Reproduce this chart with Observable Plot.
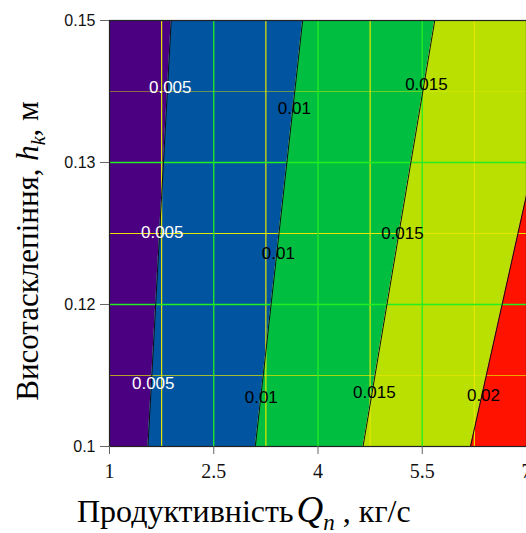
<!DOCTYPE html>
<html><head><meta charset="utf-8">
<script src="https://cdn.jsdelivr.net/npm/d3@7"></script>
<script src="https://cdn.jsdelivr.net/npm/@observablehq/plot@0.6"></script>
<style>body{margin:0;background:#fff;overflow:hidden}</style>
</head><body><div id="chart"></div>
<script>
// Contour levels of the function and where each contour line crosses the bottom (h=0.1) and top (h=0.15) edges
const levels = [0.005, 0.01, 0.015, 0.02];
const hEnds = [0.1, 0.15];
const qAtBottom = [1.553, 3.098, 4.648, 6.194];
const qAtTop = [1.888, 3.779, 5.680, 7.56];
const bandNames = ["<0.005", "0.005–0.01", "0.01–0.015", "0.015–0.02", ">0.02"];
const bandColors = ["#4b0082", "#0054a0", "#00bf40", "#b9e000", "#ff1200"];
const xDomain = [1, 7];
const yDomain = [0.1, 0.15];
const xTicks = [1, 2.5, 4, 5.5, 7];
const xTickLabels = ["1", "2.5", "4", "5.5", "7"];
const yTicks = [0.1, 0.116667, 0.133333, 0.15];
const yTickLabels = ["0.1", "0.12", "0.13", "0.15"];
const xMajorGrid = [2.5, 4, 5.5];
const xMinorGrid = [1.75, 3.25, 4.75, 6.25];
const yMajorGrid = [0.116667, 0.133333];
const yMinorGrid = [0.108333, 0.125, 0.141667];
const yMinorOpacity = [0.7, 1, 0.45];
// contour labels
const labelLevel = [0.005, 0.005, 0.005, 0.01, 0.01, 0.01, 0.015, 0.015, 0.015, 0.02];
const labelText = ["0.005", "0.005", "0.005", "0.01", "0.01", "0.01", "0.015", "0.015", "0.015", "0.02"];
const labelQ = [1.874, 1.759, 1.629, 3.659, 3.429, 3.184, 5.560, 5.215, 4.811, 6.381];
const labelH = [0.1421, 0.1251, 0.1074, 0.1397, 0.1227, 0.1058, 0.1425, 0.1250, 0.1063, 0.1060];

const qAt = (i, k) => (k === 0 ? qAtBottom[i] : qAtTop[i]);
const bandRows = [];
bandNames.forEach((name, b) => {
  hEnds.forEach((h, k) => {
    bandRows.push({
      band: name,
      h,
      x1: b === 0 ? xDomain[0] : qAt(b - 1, k),
      x2: b === bandNames.length - 1 ? xDomain[1] : qAt(b, k)
    });
  });
});
const lineRows = [];
levels.forEach((lv, i) => hEnds.forEach((h, k) => lineRows.push({level: lv, q: qAt(i, k), h})));
const labels = labelText.map((t, i) => ({text: t, level: labelLevel[i], q: labelQ[i], h: labelH[i]}));
const minorY = yMinorGrid.map((y, i) => ({y, o: yMinorOpacity[i]}));

const chart = Plot.plot({
  width: 526,
  height: 533,
  marginLeft: 109,
  marginRight: 0,
  marginTop: 20,
  marginBottom: 87,
  style: {background: "#fff", overflow: "visible"},
  x: {domain: xDomain},
  y: {domain: yDomain},
  color: {domain: bandNames, range: bandColors},
  marks: [
    Plot.areaX(bandRows, {y: "h", x1: "x1", x2: "x2", z: "band", fill: "band", clip: true}),
    Plot.ruleX(xMinorGrid, {stroke: "#e6e600", strokeWidth: 1.2}),
    Plot.ruleY(minorY, {y: "y", stroke: "#e6e600", strokeOpacity: "o", strokeWidth: 1.2}),
    Plot.ruleX(xMajorGrid, {stroke: "#22ee22", strokeWidth: 1.3}),
    Plot.ruleY(yMajorGrid, {stroke: "#22ee22", strokeWidth: 1.3}),
    Plot.line(lineRows, {x: "q", y: "h", z: "level", stroke: "#111", strokeWidth: 1, clip: true}),
    Plot.text(labels, {x: "q", y: "h", text: "text", fill: d => d.level === 0.005 ? "#fff" : "#000",
      fontSize: 17, fontFamily: "Liberation Sans, Arial, sans-serif"}),
    Plot.frame({stroke: "#222", strokeWidth: 1.2}),
    // tick marks only (labels drawn by text marks below)
    Plot.axisX({ticks: xTicks, tickFormat: () => "", tickSize: 8, stroke: "#666", label: null}),
    Plot.axisY({ticks: yTicks, tickFormat: () => "", tickSize: 9, stroke: "#666", label: null}),
    Plot.text(xTicks, {x: d => d, text: (d, i) => xTickLabels[i], frameAnchor: "bottom", dy: 25, lineAnchor: "middle",
      fontSize: 20, fontFamily: "Liberation Serif, serif", fill: "#111"}),
    Plot.text(yTicks, {y: d => d, text: (d, i) => yTickLabels[i], frameAnchor: "left", dx: -14, textAnchor: "end",
      fontSize: 16, fontFamily: "Liberation Sans, sans-serif", fill: "#111"})
  ]
});
document.getElementById("chart").appendChild(chart);

const svg = d3.select(chart);
// y axis title
const yt = svg.append("text")
  .attr("transform", "translate(38,251) rotate(-90)")
  .attr("text-anchor", "middle")
  .attr("font-family", "Liberation Serif, Times New Roman, serif")
  .attr("font-size", 31)
  .attr("fill", "#000");
yt.append("tspan").text("Висотасклепіння, ");
yt.append("tspan").attr("font-style", "italic").text("h");
yt.append("tspan").attr("font-style", "italic").attr("font-size", 20).attr("dy", 7).text("k");
yt.append("tspan").attr("dy", -7).text(", м");
// x axis title
const xt = svg.append("text")
  .attr("x", 77).attr("y", 522)
  .attr("text-anchor", "start")
  .attr("font-family", "Liberation Serif, Times New Roman, serif")
  .attr("font-size", 32)
  .attr("fill", "#000");
xt.append("tspan").text("Продуктивність");
xt.append("tspan").attr("font-style", "italic").attr("font-size", 37).attr("dx", 3).text("Q");
xt.append("tspan").attr("font-style", "italic").attr("font-size", 23).attr("dy", 8).text("n");
xt.append("tspan").attr("dy", -8).text(" , кг/с");
</script>
</body></html>
